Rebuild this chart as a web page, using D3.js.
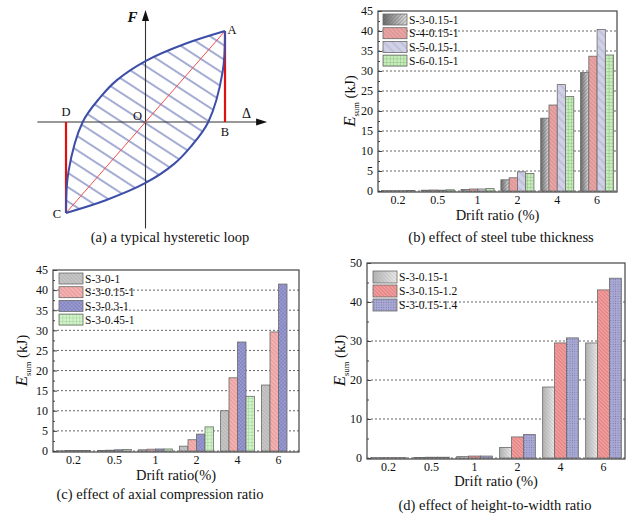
<!DOCTYPE html>
<html>
<head>
<meta charset="utf-8">
<script src="https://cdn.jsdelivr.net/npm/d3@7"></script>
<style>
  body { margin: 0; background: #fff; }
  svg { display: block; }
  text { font-family: "Liberation Serif", "Times New Roman", serif; fill: #111; }
</style>
</head>
<body>
<div id="app"></div>
<script>
// categories shared by the three bar charts
const drift = ['0.2', '0.5', '1', '2', '4', '6']

// (b) effect of steel tube thickness
const seriesB = ['S-3-0.15-1', 'S-4-0.15-1', 'S-5-0.15-1', 'S-6-0.15-1']
const valuesB = [
  [0.1, 0.2, 0.4, 2.8, 18.2, 29.6],
  [0.1, 0.25, 0.5, 3.3, 21.5, 33.7],
  [0.1, 0.2, 0.5, 4.8, 26.6, 40.4],
  [0.15, 0.3, 0.6, 4.4, 23.6, 34.0]
]

// (c) effect of axial compression ratio
const seriesC = ['S-3-0-1', 'S-3-0.15-1', 'S-3-0.3-1', 'S-3-0.45-1']
const valuesC = [
  [0.05, 0.1, 0.3, 1.2, 10.0, 16.4],
  [0.1, 0.2, 0.45, 2.8, 18.2, 29.6],
  [0.1, 0.3, 0.5, 4.2, 27.1, 41.5],
  [0.15, 0.35, 0.5, 6.0, 13.6, null]
]

// (d) effect of height-to-width ratio
const seriesD = ['S-3-0.15-1', 'S-3-0.15-1.2', 'S-3-0.15-1.4']
const valuesD = [
  [0.1, 0.15, 0.35, 2.7, 18.2, 29.5],
  [0.1, 0.2, 0.5, 5.4, 29.5, 43.1],
  [0.1, 0.2, 0.5, 6.0, 30.8, 46.1]
]

// (a) typical hysteretic loop, normalised (delta, F); lower branch is the point reflection
const loopUpper = [[-1, -1], [-0.97, -0.55], [-0.79, 0], [-0.57, 0.27], [-0.36, 0.46], [0, 0.67], [0.5, 0.86], [1, 1]]
const keyPoints = [
  { name: 'A', d: 1, f: 1 },
  { name: 'B', d: 1, f: 0 },
  { name: 'C', d: -1, f: -1 },
  { name: 'D', d: -1, f: 0 }
]

const svg = d3.select('#app').append('svg').attr('width', 628).attr('height', 515)
const defs = svg.append('defs')

// ---------- fill helpers ----------
function hatch(id, size, angle, color, sw) {
  const p = defs.append('pattern').attr('id', id).attr('patternUnits', 'userSpaceOnUse')
    .attr('width', size).attr('height', size).attr('patternTransform', `rotate(${angle})`)
  p.append('path').attr('d', `M0,0V${size}M${size},0V${size}`)
    .attr('stroke', color).attr('stroke-width', sw)
}
function grid(id, size, color, sw) {
  const p = defs.append('pattern').attr('id', id).attr('patternUnits', 'userSpaceOnUse')
    .attr('width', size).attr('height', size)
  p.append('path').attr('d', `M0,0H${size}M0,0V${size}`)
    .attr('stroke', color).attr('stroke-width', sw)
}
function cross(id, size, color, sw) {
  const p = defs.append('pattern').attr('id', id).attr('patternUnits', 'userSpaceOnUse')
    .attr('width', size).attr('height', size).attr('patternTransform', 'rotate(45)')
  p.append('path').attr('d', `M0,0H${size}M0,0V${size}`)
    .attr('stroke', color).attr('stroke-width', sw)
}
function dots(id, size, color, r) {
  const p = defs.append('pattern').attr('id', id).attr('patternUnits', 'userSpaceOnUse')
    .attr('width', size).attr('height', size)
  p.append('circle').attr('cx', size / 2).attr('cy', size / 2).attr('r', r).attr('fill', color)
}
function gradient(id, c1, c2) {
  const lg = defs.append('linearGradient').attr('id', id).attr('x1', 0).attr('x2', 1).attr('y1', 0).attr('y2', 0)
  lg.append('stop').attr('offset', '0%').attr('stop-color', c1)
  lg.append('stop').attr('offset', '100%').attr('stop-color', c2)
}

gradient('gB', '#6e6e6e', '#f2f2f2')
hatch('hB0', 2.6, 45, '#555', 0.6)
hatch('hB1', 3, -45, '#c86464', 0.6)
hatch('hB2', 6, -45, '#9a9ac0', 0.6)
grid('hB3', 3.4, '#70b064', 0.7)

hatch('hC0', 2.6, -45, '#9a9a9a', 0.6)
hatch('hC1', 3, -45, '#e07474', 0.7)
cross('hC2', 2.6, '#6464a8', 0.6)
grid('hC3', 3.4, '#7cc474', 0.7)

gradient('gD', '#b4b4b4', '#f4f4f4')
hatch('hD0', 2.6, -45, '#a8a8a8', 0.6)
hatch('hD1', 2.6, -45, '#d85858', 0.7)
dots('hD2', 2.4, '#7474ac', 0.55)

const stylesB = [
  { base: 'url(#gB)', pat: 'url(#hB0)' },
  { base: '#ebacac', pat: 'url(#hB1)' },
  { base: '#d0d0e6', pat: 'url(#hB2)' },
  { base: '#c9ecbd', pat: 'url(#hB3)' }
]
const stylesC = [
  { base: '#cbcbcb', pat: 'url(#hC0)' },
  { base: '#f4baba', pat: 'url(#hC1)' },
  { base: '#9c9cd2', pat: 'url(#hC2)' },
  { base: '#d5f2cd', pat: 'url(#hC3)' }
]
const stylesD = [
  { base: 'url(#gD)', pat: 'url(#hD0)' },
  { base: '#f2a8a8', pat: 'url(#hD1)' },
  { base: '#aaaad4', pat: 'url(#hD2)' }
]

// ---------- bar panel ----------
function barPanel(o) {
  const g = svg.append('g')
  const x0 = d3.scaleBand().domain(drift).range([o.left, o.right])
  const x1 = d3.scaleBand().domain(o.series)
    .range([x0.bandwidth() * 0.085, x0.bandwidth() * 0.915])
  const y = d3.scaleLinear().domain([0, o.yMax]).range([o.bottom, o.top])
  const majors = d3.range(0, o.yMax + 0.01, o.step)
  const minors = d3.range(o.step / 2, o.yMax, o.step)

  // dashed grid lines
  g.append('g').selectAll('line').data(majors.slice(0, -1)).join('line')
    .attr('x1', o.left).attr('x2', o.right)
    .attr('y1', (d) => y(d)).attr('y2', (d) => y(d))
    .attr('stroke', '#555').attr('stroke-width', 0.9).attr('stroke-dasharray', '2,2')

  // bars: base colour, pattern overlay, outline
  const rows = o.series.flatMap((s, si) =>
    o.values[si].map((v, ci) => ({ s, si, cat: drift[ci], v }))).filter((d) => d.v != null)
  const bars = g.append('g').selectAll('g').data(rows).join('g')
  ;['base', 'pat'].forEach((k) => {
    bars.append('rect')
      .attr('x', (d) => x0(d.cat) + x1(d.s)).attr('width', x1.bandwidth())
      .attr('y', (d) => y(d.v)).attr('height', (d) => y(0) - y(d.v))
      .attr('fill', (d) => o.styles[d.si][k])
  })
  bars.append('rect')
    .attr('x', (d) => x0(d.cat) + x1(d.s)).attr('width', x1.bandwidth())
    .attr('y', (d) => y(d.v)).attr('height', (d) => y(0) - y(d.v))
    .attr('fill', 'none').attr('stroke', '#6a6a6a').attr('stroke-width', 0.8)

  // frame
  g.append('rect').attr('x', o.left).attr('y', o.top)
    .attr('width', o.right - o.left).attr('height', o.bottom + 1 - o.top)
    .attr('fill', 'none').attr('stroke', '#444').attr('stroke-width', 1.2)

  // y axis (inward ticks)
  const ya = g.append('g').attr('transform', `translate(${o.left},0)`)
    .call(d3.axisLeft(y).tickValues(majors).tickSize(-4).tickPadding(5).tickFormat(d3.format('d')))
  ya.select('.domain').remove()
  ya.selectAll('text').attr('font-size', 12).attr('font-family', '"Liberation Serif", serif').attr('fill', '#000')
  ya.selectAll('line').attr('stroke', '#444')
  const ym = g.append('g').attr('transform', `translate(${o.left},0)`)
    .call(d3.axisLeft(y).tickValues(minors).tickSize(-2).tickFormat(''))
  ym.select('.domain').remove()
  ym.selectAll('line').attr('stroke', '#444')

  // x axis
  const xa = g.append('g').attr('transform', `translate(0,${o.bottom + 1})`)
    .call(d3.axisBottom(x0).tickSize(0).tickPadding(3))
  xa.select('.domain').remove()
  xa.selectAll('text').attr('font-size', 12).attr('font-family', '"Liberation Serif", serif').attr('fill', '#000')

  // axis titles
  g.append('text').attr('x', (o.left + o.right) / 2).attr('y', o.xTitleY)
    .attr('text-anchor', 'middle').attr('font-size', 14.5).text(o.xTitle)
  const yt = g.append('text').attr('text-anchor', 'middle')
    .attr('transform', `translate(${o.yTitleX},${(o.top + o.bottom) / 2}) rotate(-90)`)
  yt.append('tspan').attr('font-style', 'italic').attr('font-size', 17).text('E')
  yt.append('tspan').attr('font-size', 8.5).attr('dy', 4).text('sum')
  yt.append('tspan').attr('font-size', 15).attr('dy', -4).text(' (kJ)')

  // legend
  const lg = g.append('g').selectAll('g').data(o.series).join('g')
    .attr('transform', (d, i) => `translate(${o.legX},${o.legY + i * o.legStep})`)
  ;['base', 'pat'].forEach((k) => {
    lg.append('rect').attr('width', 24).attr('height', o.legH)
      .attr('fill', (d, i) => o.styles[i][k])
  })
  lg.append('rect').attr('width', 24).attr('height', o.legH)
    .attr('fill', 'none').attr('stroke', '#6a6a6a').attr('stroke-width', 0.8)
  lg.append('text').attr('x', 26).attr('y', o.legH / 2 + 4)
    .attr('font-size', 11.5).text((d) => d)

  // caption
  svg.append('text').attr('x', o.capX).attr('y', o.capY)
    .attr('text-anchor', 'middle').attr('font-size', 14.5).text(o.caption)
}

barPanel({
  series: seriesB, values: valuesB, styles: stylesB,
  left: 378, right: 617, top: 11, bottom: 191, yMax: 45, step: 5,
  xTitle: 'Drift ratio (%)', xTitleY: 220, yTitleX: 355,
  legX: 383, legY: 14, legStep: 13.7, legH: 11,
  caption: '(b) effect of steel tube thickness', capX: 501, capY: 242
})
barPanel({
  series: seriesC, values: valuesC, styles: stylesC,
  left: 53, right: 299, top: 270, bottom: 451, yMax: 45, step: 5,
  xTitle: 'Drift ratio(%)', xTitleY: 479.5, yTitleX: 27,
  legX: 59, legY: 273, legStep: 13.7, legH: 11,
  caption: '(c) effect of axial compression ratio', capX: 160, capY: 499
})
barPanel({
  series: seriesD, values: valuesD, styles: stylesD,
  left: 367, right: 625, top: 263, bottom: 458, yMax: 50, step: 10,
  xTitle: 'Drift ratio (%)', xTitleY: 485.5, yTitleX: 345,
  legX: 373, legY: 271, legStep: 14, legH: 12,
  caption: '(d) effect of height-to-width ratio', capX: 495, capY: 510
})

// ---------- (a) hysteretic loop ----------
const ax = d3.scaleLinear().domain([-1, 1]).range([66, 225])
const ay = d3.scaleLinear().domain([-1, 1]).range([213, 31])
const ga = svg.append('g')

const loopPath = d3.line().x((d) => ax(d[0])).y((d) => ay(d[1])).curve(d3.curveCatmullRom.alpha(0.5))
const upperD = loopPath(loopUpper)
const lowerD = loopPath(loopUpper.map(([d, f]) => [-d, -f]))

hatch('hA', 12, -57, '#4a5aa8', 1)
const clip = defs.append('clipPath').attr('id', 'loopClip')
clip.append('path').attr('d', upperD + 'L' + lowerD.slice(1) + 'Z')

ga.append('rect').attr('x', 60).attr('y', 25).attr('width', 170).attr('height', 195)
  .attr('fill', 'url(#hA)').attr('clip-path', 'url(#loopClip)')

// axes with arrows
const axisExt = { d: [-1.36, 1.53], f: [-1.17, 1.23] }
ga.append('line').attr('x1', ax(axisExt.d[0])).attr('x2', ax(axisExt.d[1]) - 6)
  .attr('y1', ay(0)).attr('y2', ay(0)).attr('stroke', '#333').attr('stroke-width', 1.1)
ga.append('line').attr('x1', ax(0)).attr('x2', ax(0))
  .attr('y1', ay(axisExt.f[0])).attr('y2', ay(axisExt.f[1]) + 6).attr('stroke', '#333').attr('stroke-width', 1.1)
const tx = ax(axisExt.d[1]), ty = ay(axisExt.f[1])
ga.append('path').attr('d', `M${tx},${ay(0)}L${tx - 11},${ay(0) - 3.5}L${tx - 11},${ay(0) + 3.5}Z`).attr('fill', '#111')
ga.append('path').attr('d', `M${ax(0)},${ty}L${ax(0) - 3.5},${ty + 11}L${ax(0) + 3.5},${ty + 11}Z`).attr('fill', '#111')

// diagonal C-A and verticals A-B, D-C
const P = Object.fromEntries(keyPoints.map((p) => [p.name, p]))
ga.append('line').attr('x1', ax(P.C.d)).attr('y1', ay(P.C.f)).attr('x2', ax(P.A.d)).attr('y2', ay(P.A.f))
  .attr('stroke', '#f05050').attr('stroke-width', 1)
ga.append('line').attr('x1', ax(P.A.d)).attr('y1', ay(P.A.f)).attr('x2', ax(P.B.d)).attr('y2', ay(P.B.f))
  .attr('stroke', '#e01010').attr('stroke-width', 2.2)
ga.append('line').attr('x1', ax(P.D.d)).attr('y1', ay(P.D.f)).attr('x2', ax(P.C.d)).attr('y2', ay(P.C.f))
  .attr('stroke', '#e01010').attr('stroke-width', 2.2)

// loop outline
ga.append('path').attr('d', upperD).attr('fill', 'none').attr('stroke', '#3c4ea8').attr('stroke-width', 2)
ga.append('path').attr('d', lowerD).attr('fill', 'none').attr('stroke', '#3c4ea8').attr('stroke-width', 2)

// labels
const lbl = { A: [7, 3], B: [0, 14], C: [-9, 5], D: [0, -6] }
ga.selectAll('.pl').data(keyPoints).join('text')
  .attr('x', (d) => ax(d.d) + lbl[d.name][0]).attr('y', (d) => ay(d.f) + lbl[d.name][1])
  .attr('text-anchor', 'middle').attr('font-size', 12.5).text((d) => d.name)
ga.append('text').attr('x', ax(0) - 8).attr('y', ay(0) - 2).attr('text-anchor', 'middle')
  .attr('font-size', 12.5).text('O')
ga.append('text').attr('x', ax(0) - 18).attr('y', 22).attr('font-size', 15)
  .attr('font-style', 'italic').attr('font-weight', 'bold').text('F')
ga.append('text').attr('x', 242).attr('y', ay(0) - 4).attr('font-size', 14).text('Δ')
svg.append('text').attr('x', 170).attr('y', 242).attr('text-anchor', 'middle')
  .attr('font-size', 14.5).text('(a) a typical hysteretic loop')
</script>
</body>
</html>
